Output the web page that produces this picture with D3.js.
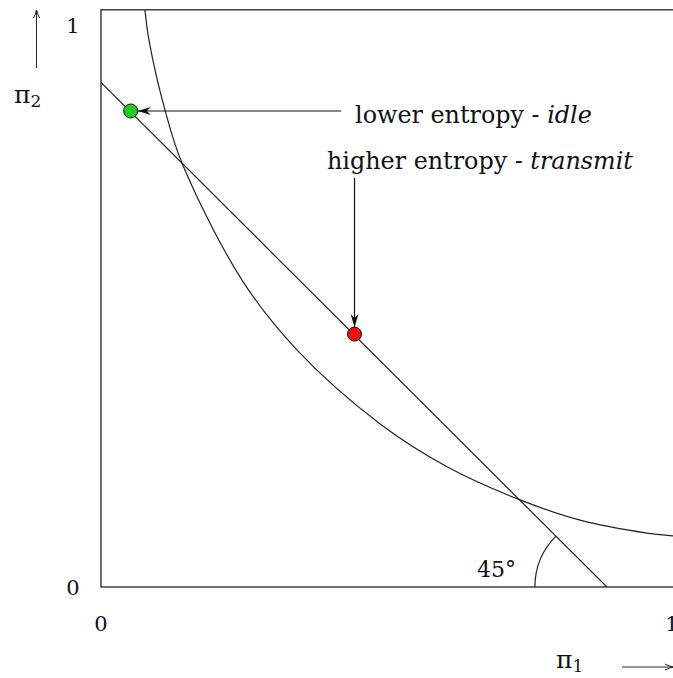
<!DOCTYPE html>
<html>
<head>
<meta charset="utf-8">
<script src="https://cdn.jsdelivr.net/npm/d3@7"></script>
<style>
  html, body { margin: 0; padding: 0; background: #fff; }
  svg { display: block; }
  text { font-family: "DejaVu Serif", "Liberation Serif", serif; fill: #111; }
</style>
</head>
<body>
<svg id="chart" width="673" height="678"></svg>
<script>
// Probability simplex slice: pi1 on x, pi2 on y
const xTicks = [0, 1];
const yTicks = [0, 1];

// straight line through the slice (45 degrees to the pi1 axis)
const lineX = [0, 0.886];
const lineY = [0.898, 0];

// curved contour, sampled along its length
const curveX = [0.077, 0.084, 0.112, 0.142, 0.247, 0.343, 0.489, 0.606, 0.734, 0.839, 0.956, 1.002, 1.027];
const curveY = [1.027, 0.973, 0.849, 0.754, 0.546, 0.422, 0.290, 0.214, 0.155, 0.119, 0.096, 0.091, 0.088];

// highlighted operating points
const pointNames = ["idle", "transmit"];
const pointX = [0.052, 0.444];
const pointY = [0.847, 0.450];
const pointColors = ["#22cc22", "#ee1111"];

const svg = d3.select("#chart");
const x = d3.scaleLinear().domain([0, 1]).range([101, 672]);
const y = d3.scaleLinear().domain([0, 1]).range([587, 25]);
const frameMax = 1.027;
const ink = "#222";

const defs = svg.append("defs");
defs.append("clipPath").attr("id", "plotClip")
  .append("rect")
  .attr("x", x(0)).attr("y", y(frameMax))
  .attr("width", x(frameMax) - x(0)).attr("height", y(0) - y(frameMax));

// filled, swept-back arrowhead for the annotation arrows
defs.append("marker")
  .attr("id", "headFilled")
  .attr("markerUnits", "userSpaceOnUse")
  .attr("viewBox", "-13 -5 14 10")
  .attr("refX", 0).attr("refY", 0)
  .attr("markerWidth", 14).attr("markerHeight", 10)
  .attr("orient", "auto")
  .append("path")
  .attr("d", "M0,0 L-13,-4 L-9,0 L-13,4 Z")
  .attr("fill", "#111");

// thin open arrowhead for the axis direction arrows
defs.append("marker")
  .attr("id", "headOpen")
  .attr("markerUnits", "userSpaceOnUse")
  .attr("viewBox", "-9 -4 10 8")
  .attr("refX", 0).attr("refY", 0)
  .attr("markerWidth", 10).attr("markerHeight", 8)
  .attr("orient", "auto")
  .append("path")
  .attr("d", "M-8,-3 Q-4,-1 0,0 Q-4,1 -8,3")
  .attr("fill", "none").attr("stroke", "#111").attr("stroke-width", 0.9);

// frame
svg.append("rect")
  .attr("x", x(0)).attr("y", y(frameMax))
  .attr("width", x(frameMax) - x(0)).attr("height", y(0) - y(frameMax))
  .attr("fill", "none").attr("stroke", ink).attr("stroke-width", 1.3);

// tick labels
svg.selectAll("text.ytick").data(yTicks).join("text")
  .attr("class", "ytick")
  .attr("x", 73).attr("y", d => y(d) + 8)
  .attr("text-anchor", "middle")
  .attr("font-size", 21)
  .text(d => d);
svg.selectAll("text.xtick").data(xTicks).join("text")
  .attr("class", "xtick")
  .attr("x", d => x(d)).attr("y", 631)
  .attr("text-anchor", "middle")
  .attr("font-size", 21)
  .text(d => d);

const plot = svg.append("g").attr("clip-path", "url(#plotClip)");

// contour curve
const curvePts = curveX.map((v, i) => [v, curveY[i]]);
plot.append("path")
  .attr("d", d3.line().x(d => x(d[0])).y(d => y(d[1])).curve(d3.curveCatmullRom.alpha(0.5))(curvePts))
  .attr("fill", "none").attr("stroke", ink).attr("stroke-width", 1.2);

// straight line
const linePts = lineX.map((v, i) => [v, lineY[i]]);
plot.append("path")
  .attr("d", d3.line().x(d => x(d[0])).y(d => y(d[1]))(linePts))
  .attr("fill", "none").attr("stroke", ink).attr("stroke-width", 1.2);

// 45 degree angle arc at the line's pi1 intercept
const cx0 = x(lineX[1]), cy0 = y(0), rArc = 72;
const arc = d3.path();
arc.arc(cx0, cy0, rArc, Math.PI, Math.PI * 1.25, false);
svg.append("path")
  .attr("d", arc.toString())
  .attr("fill", "none").attr("stroke", ink).attr("stroke-width", 1.2);
svg.append("text")
  .attr("x", 477).attr("y", 577)
  .attr("font-size", 22)
  .text("45°");

// annotation arrows
svg.append("line")
  .attr("x1", 341).attr("y1", y(pointY[0]))
  .attr("x2", x(pointX[0]) + 7).attr("y2", y(pointY[0]))
  .attr("stroke", "#111").attr("stroke-width", 1.2)
  .attr("marker-end", "url(#headFilled)");
svg.append("line")
  .attr("x1", x(pointX[1])).attr("y1", 178)
  .attr("x2", x(pointX[1])).attr("y2", y(pointY[1]) - 7)
  .attr("stroke", "#111").attr("stroke-width", 1.2)
  .attr("marker-end", "url(#headFilled)");

// operating points
svg.selectAll("circle.pt").data(pointNames).join("circle")
  .attr("class", "pt")
  .attr("cx", (d, i) => x(pointX[i]))
  .attr("cy", (d, i) => y(pointY[i]))
  .attr("r", 7)
  .attr("fill", (d, i) => pointColors[i])
  .attr("stroke", "#111").attr("stroke-width", 1);

// annotation labels, sized to span their set widths
function label(xPos, yPos, plain, italic, width) {
  const t = svg.append("text").attr("x", xPos).attr("y", yPos).attr("font-size", 20);
  t.append("tspan").text(plain);
  t.append("tspan").attr("font-style", "italic").text(italic);
  const w = t.node().getComputedTextLength();
  t.attr("font-size", 20 * width / w);
  return t;
}
label(355, 123, "lower entropy - ", "idle", 237);
label(327, 169, "higher entropy - ", "transmit", 306);

// axis names with direction arrows
const p2 = svg.append("text").attr("x", 14).attr("y", 103).attr("font-size", 25);
p2.append("tspan").text("π");
p2.append("tspan").attr("font-size", 17).attr("dy", 4).text("2");
svg.append("line")
  .attr("x1", 36.5).attr("y1", 68).attr("x2", 36.5).attr("y2", 10)
  .attr("stroke", "#111").attr("stroke-width", 0.9)
  .attr("marker-end", "url(#headOpen)");

const p1 = svg.append("text").attr("x", 556).attr("y", 668).attr("font-size", 25);
p1.append("tspan").text("π");
p1.append("tspan").attr("font-size", 17).attr("dy", 4).text("1");
svg.append("line")
  .attr("x1", 622).attr("y1", 667).attr("x2", 673).attr("y2", 667)
  .attr("stroke", "#111").attr("stroke-width", 0.9)
  .attr("marker-end", "url(#headOpen)");
</script>
</body>
</html>
